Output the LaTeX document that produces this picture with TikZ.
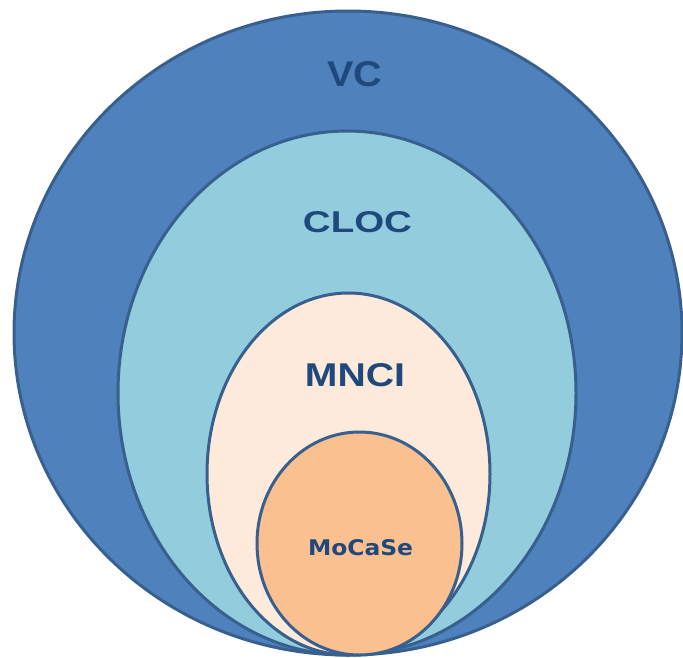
\documentclass[tikz,border=0pt]{standalone}
\usepackage{fontspec}
\setmainfont{Liberation Sans}
\newfontfamily\labelfont{DejaVu Sans}
\usepackage{graphicx}
\definecolor{vcfill}{HTML}{4F81BD}
\definecolor{clocfill}{HTML}{93CDDD}
\definecolor{mncifill}{HTML}{FDEADA}
\definecolor{mocasefill}{HTML}{FAC090}
\definecolor{rim}{HTML}{38608F}
\definecolor{labeltext}{HTML}{1F497D}
\begin{document}
\begin{tikzpicture}[x=1pt,y=-1pt,
  setshape/.style={draw=rim,line width=3pt},
  setlabel/.style={text=labeltext,inner sep=0pt,anchor=center}]
\useasboundingbox (0,0) rectangle (683,657);
% nested sets, all touching at the bottom
\path[setshape,fill=vcfill]     (348,333)   ellipse [x radius=334,y radius=322];
\path[setshape,fill=clocfill]   (347,393)   ellipse [x radius=229,y radius=262];
\path[setshape,fill=mncifill]   (348.5,474) ellipse [x radius=141.5,y radius=181];
\path[setshape,fill=mocasefill] (359.5,543.5) ellipse [x radius=102.5,y radius=111.5];
% set names
\node[setlabel] (vc)     at (354.5,74)  {\resizebox{55pt}{25pt}{\bfseries VC}};
\node[setlabel] (cloc)   at (357.5,222) {\resizebox{109pt}{21pt}{\bfseries CLOC}};
\node[setlabel] (mnci)   at (355,375)   {\resizebox{100pt}{23pt}{\bfseries MNCI}};
\node[setlabel] (mocase) at (360.5,548) {\resizebox{105pt}{16pt}{\labelfont\bfseries MoCaSe}};
\end{tikzpicture}
\end{document}
